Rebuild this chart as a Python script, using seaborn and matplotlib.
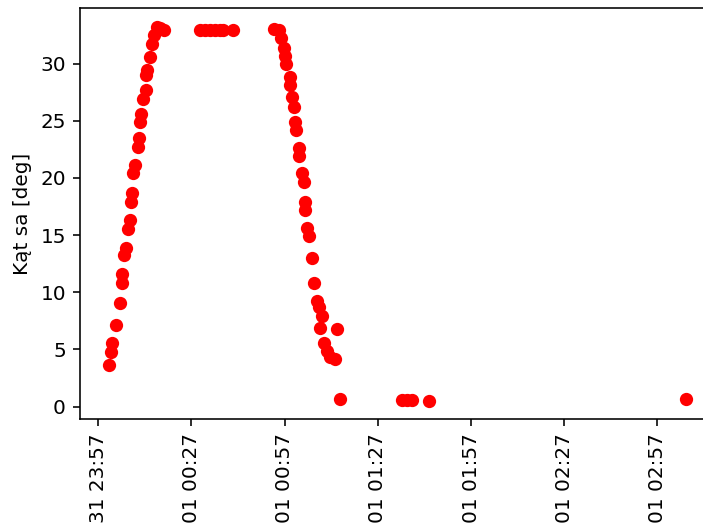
import matplotlib
matplotlib.use("Agg")
import matplotlib.pyplot as plt
import matplotlib.dates as mdates
import pandas as pd
import seaborn as sns

# Measurement times on the 1st (the axis starts late on the 31st)
times = [
    # rising branch
    "00:00:25", "00:01:11", "00:01:30", "00:02:34", "00:04:10", "00:04:40",
    "00:04:45", "00:05:14", "00:06:00", "00:06:31", "00:07:10", "00:07:37",
    "00:07:56", "00:08:15", "00:08:59", "00:09:44", "00:10:03", "00:10:36",
    "00:10:50", "00:11:20", "00:12:13", "00:12:32", "00:12:46", "00:13:49",
    "00:14:22", "00:15:06", "00:15:58", "00:17:02", "00:18:19",
    # plateau
    "00:29:54", "00:31:30", "00:33:06", "00:34:42", "00:36:18", "00:37:18",
    "00:40:30",
    # falling branch
    "00:53:28", "00:55:04", "00:55:50", "00:56:41", "00:57:14", "00:57:33",
    "00:58:37", "00:58:50", "00:59:23", "00:59:53", "01:00:26", "01:00:30",
    "01:01:42", "01:01:46", "01:02:35", "01:03:07", "01:03:38", "01:03:42",
    "01:04:12", "01:04:43", "01:05:49", "01:06:19", "01:07:25", "01:07:56",
    "01:08:29", "01:09:02", "01:09:32", "01:10:38", "01:11:41", "01:13:18",
    "01:13:51", "01:14:41",
    # late readings
    "01:34:45", "01:36:22", "01:37:58", "01:43:36", "03:06:04",
]

angles = [
    3.6, 4.8, 5.6, 7.1, 9.1, 10.8,
    11.6, 13.3, 13.9, 15.5, 16.3, 17.9,
    18.7, 20.4, 21.1, 22.7, 23.5, 24.9,
    25.6, 26.9, 27.7, 29.0, 29.4, 30.6,
    31.7, 32.5, 33.2, 33.1, 32.9,
    32.9, 32.9, 32.9, 32.9, 32.9, 32.9,
    32.9,
    33.05, 32.9, 32.2, 31.4, 30.7, 30.0,
    28.8, 28.1, 27.1, 26.2, 24.9, 24.2,
    22.6, 21.9, 20.4, 19.6, 17.9, 17.2,
    15.6, 14.9, 13.0, 10.8, 9.2, 8.7,
    6.9, 7.9, 5.6, 4.9, 4.3, 4.15,
    6.8, 0.67,
    0.6, 0.61, 0.6, 0.52, 0.64,
]

stamps = pd.to_datetime(["2021-01-01 " + t for t in times])
df = pd.DataFrame({"czas": stamps, "kat": angles})

fig = plt.figure(figsize=(703 / 144, 523 / 144), dpi=144)
ax = fig.add_axes([80 / 703, 103.7 / 523, 634.5 / 703, 411 / 523])

sns.scatterplot(data=df, x="czas", y="kat", color="red", s=44,
                linewidth=0, ax=ax)

ax.set_xlabel("")
ax.set_ylabel("Kąt sa [deg]")
ax.xaxis.set_major_locator(mdates.MinuteLocator(byminute=[27, 57]))
ax.xaxis.set_major_formatter(mdates.DateFormatter("%d %H:%M"))
plt.setp(ax.get_xticklabels(), rotation=90)

fig.savefig("out.png", dpi=144)
